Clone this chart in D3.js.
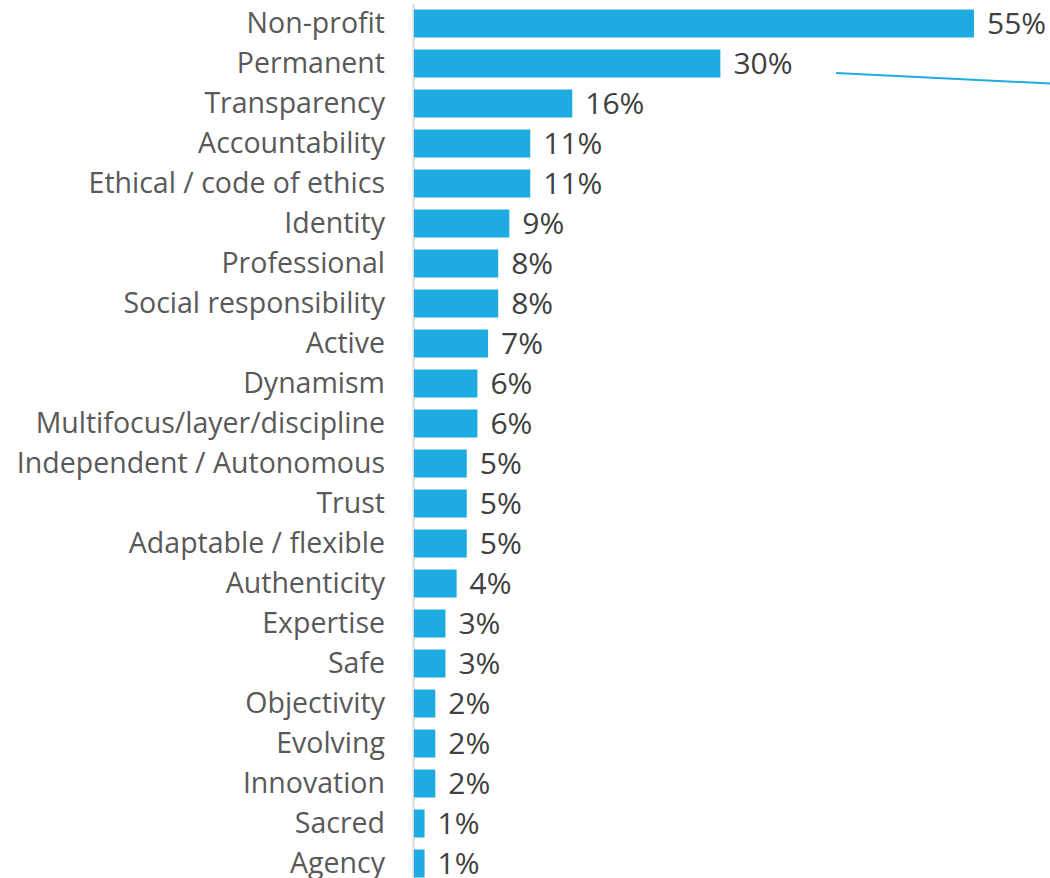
<!DOCTYPE html>
<html>
<head>
<meta charset="utf-8">
<script src="https://cdn.jsdelivr.net/npm/d3@7"></script>
<style>
  html, body { margin: 0; padding: 0; background: #ffffff; }
  svg { display: block; }
</style>
</head>
<body>
<svg id="chart" width="1050" height="878"></svg>
<script>
const categories = [
  "Non-profit", "Permanent", "Transparency", "Accountability", "Ethical / code of ethics",
  "Identity", "Professional", "Social responsibility", "Active", "Dynamism",
  "Multifocus/layer/discipline", "Independent / Autonomous", "Trust", "Adaptable / flexible",
  "Authenticity", "Expertise", "Safe", "Objectivity", "Evolving", "Innovation", "Sacred", "Agency"
];
// estimated shares (%)
const values = [
  55.2, 30.2, 15.6, 11.46, 11.46, 9.4, 8.3, 8.3, 7.3, 6.25,
  6.25, 5.2, 5.2, 5.2, 4.2, 3.1, 3.1, 2.1, 2.1, 2.1, 1.04, 1.04
];
const valueLabels = [
  "55%", "30%", "16%", "11%", "11%", "9%", "8%", "8%", "7%", "6%",
  "6%", "5%", "5%", "5%", "4%", "3%", "3%", "2%", "2%", "2%", "1%", "1%"
];

const barColor = "#1eabe2";
const data = categories.map((c, i) => ({ cat: c, v: values[i], lab: valueLabels[i] }));

const svg = d3.select("#chart");
const x = d3.scaleLinear().domain([0, 55.2]).range([414, 974]);
const y = d3.scaleBand().domain(categories).range([3.5, 883.5]).paddingInner(0.3).paddingOuter(0.15);

// axis line
svg.append("line")
  .attr("x1", 413.5).attr("x2", 413.5)
  .attr("y1", 4).attr("y2", 878)
  .attr("stroke", "#d9d9d9").attr("stroke-width", 2);

svg.append("g").selectAll("rect").data(data).join("rect")
  .attr("x", x(0))
  .attr("y", d => y(d.cat))
  .attr("width", d => x(d.v) - x(0))
  .attr("height", y.bandwidth())
  .attr("fill", barColor);

const font = "'Open Sans', 'Liberation Sans', Arial, sans-serif";

svg.append("g").selectAll("text").data(data).join("text")
  .attr("x", 385)
  .attr("y", d => y(d.cat) + y.bandwidth() / 2)
  .attr("dy", "0.33em")
  .attr("text-anchor", "end")
  .attr("font-family", font)
  .attr("font-size", 28.5)
  .attr("fill", "#595959")
  .text(d => d.cat);

svg.append("g").selectAll("text").data(data).join("text")
  .attr("x", d => x(d.v) + 13)
  .attr("y", d => y(d.cat) + y.bandwidth() / 2)
  .attr("dy", "0.34em")
  .attr("font-family", font)
  .attr("font-size", 30)
  .attr("fill", "#404040")
  .text(d => d.lab);

// annotation leader line (partially visible)
svg.append("line")
  .attr("x1", 836).attr("y1", 73)
  .attr("x2", 1050).attr("y2", 83.5)
  .attr("stroke", barColor).attr("stroke-width", 2);
</script>
</body>
</html>
